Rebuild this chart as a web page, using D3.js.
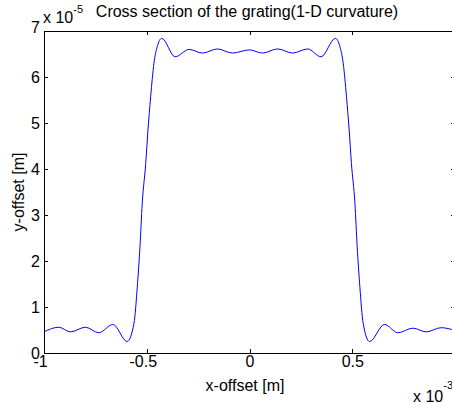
<!DOCTYPE html>
<html>
<head>
<meta charset="utf-8">
<script src="https://cdn.jsdelivr.net/npm/d3@7"></script>
<style>
  body { margin: 0; background: #fff; }
  svg { display: block; font-family: "Liberation Sans", Arial, Helvetica, sans-serif; }
  .axis text { font-size: 16px; fill: #000; }
  .axis path, .axis line { stroke: #000; shape-rendering: crispEdges; }
</style>
</head>
<body>
<div id="chart"></div>
<script>
// x offset (units of 1e-3 m) and y offset (units of 1e-5 m)
const xOffset = [-1.0, -0.928, -0.871, -0.798, -0.733, -0.665, -0.595, -0.562, -0.546, -0.533,
  -0.522, -0.505, -0.494, -0.481, -0.465, -0.449, -0.427, -0.362, -0.294, -0.229,
  -0.156, -0.083, 0.0, 0.063, 0.137, 0.210, 0.283, 0.348, 0.418, 0.440,
  0.456, 0.472, 0.485, 0.496, 0.513, 0.524, 0.537, 0.553, 0.584, 0.657,
  0.722, 0.795, 0.860, 0.933, 1.0];
const yOffset = [0.46, 0.56, 0.46, 0.56, 0.44, 0.62, 0.25, 0.65, 1.44, 2.31,
  3.25, 4.12, 4.85, 5.57, 6.30, 6.66, 6.84, 6.44, 6.60, 6.52,
  6.61, 6.52, 6.59, 6.52, 6.61, 6.52, 6.61, 6.44, 6.84, 6.66,
  6.30, 5.57, 4.85, 4.12, 3.25, 2.31, 1.44, 0.65, 0.25, 0.62,
  0.44, 0.54, 0.46, 0.55, 0.49];
const xTicks = [-1, -0.5, 0, 0.5, 1];
const xTickLabels = ["-1", "-0.5", "0", "0.5", ""]; // the "1" falls off the right edge
const yTicks = [0, 1, 2, 3, 4, 5, 6, 7];

const width = 452, height = 403;
const margin = {top: 31, right: -3, bottom: 50, left: 44};

const svg = d3.select("#chart").append("svg")
  .attr("width", width)
  .attr("height", height);

const x = d3.scaleLinear().domain([-1, 1]).range([margin.left, width - margin.right]);
const y = d3.scaleLinear().domain([0, 7]).range([height - margin.bottom, margin.top]);

const points = xOffset.map((d, i) => [d, yOffset[i]]);

// curve
svg.append("path")
  .datum(points)
  .attr("fill", "none")
  .attr("stroke", "#0000ff")
  .attr("stroke-width", 1)
  .attr("d", d3.line().x(d => x(d[0])).y(d => y(d[1])).curve(d3.curveMonotoneX));

// axes, ticks pointing inward like matlab
const xAxis = svg.append("g")
  .attr("class", "axis")
  .attr("transform", `translate(0,${y(0)})`)
  .call(d3.axisBottom(x).tickValues(xTicks).tickFormat((d, i) => xTickLabels[i])
    .tickSizeInner(-4).tickSizeOuter(0).tickPadding(3));
xAxis.select(".domain").attr("d", `M${x(-1)},0H${x(1)}`);
xAxis.selectAll(".tick text").attr("dx", d => d < 0 ? -4 : 0);

svg.append("g")
  .attr("class", "axis")
  .attr("transform", `translate(0,${y(7)})`)
  .call(d3.axisTop(x).tickValues(xTicks).tickFormat("").tickSizeInner(-4).tickSizeOuter(0));

const yAxis = svg.append("g")
  .attr("class", "axis")
  .attr("transform", `translate(${x(-1)},0)`)
  .call(d3.axisLeft(y).tickValues(yTicks).tickFormat(d3.format("d")).tickSizeInner(-4).tickSizeOuter(0).tickPadding(4));
// top label sits a bit higher, as in the original
yAxis.selectAll(".tick text").filter(d => d === 7).attr("dy", "0.1em");

svg.append("g")
  .attr("class", "axis")
  .attr("transform", `translate(${x(1)},0)`)
  .call(d3.axisRight(y).tickValues(yTicks).tickFormat("").tickSizeInner(-4).tickSizeOuter(0));

// title
svg.append("text")
  .attr("x", 247)
  .attr("y", 17)
  .attr("text-anchor", "middle")
  .style("font-size", "16px")
  .text("Cross section of the grating(1-D curvature)");

// axis labels
svg.append("text")
  .attr("x", 245)
  .attr("y", 391)
  .attr("text-anchor", "middle")
  .style("font-size", "16px")
  .text("x-offset [m]");

svg.append("text")
  .attr("transform", `translate(24,${(y(0) + y(7)) / 2}) rotate(-90)`)
  .attr("text-anchor", "middle")
  .style("font-size", "16px")
  .text("y-offset [m]");

// exponent labels
const yExp = svg.append("text")
  .attr("x", 43)
  .attr("y", 23)
  .style("font-size", "16px");
yExp.append("tspan").text("x 10");
yExp.append("tspan").attr("dy", -10).style("font-size", "11px").text("-5");

const xExp = svg.append("text")
  .attr("x", 413)
  .attr("y", 402)
  .style("font-size", "16px");
xExp.append("tspan").text("x 10");
xExp.append("tspan").attr("dy", -13).style("font-size", "11px").text("-3");
</script>
</body>
</html>
